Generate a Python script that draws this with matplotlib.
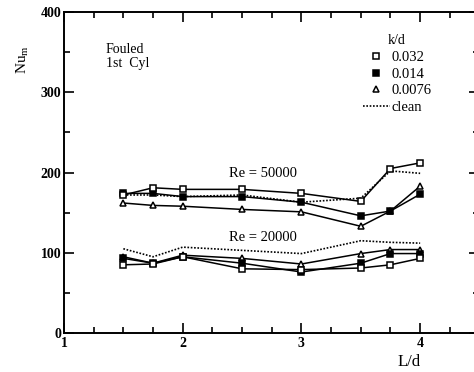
import matplotlib
matplotlib.use("Agg")
import matplotlib.pyplot as plt
from matplotlib.lines import Line2D
from matplotlib.ticker import MultipleLocator, FormatStrFormatter

plt.rcParams['font.family'] = ['Liberation Serif', 'DejaVu Serif']

x = [1.5, 1.75, 2.0, 2.5, 3.0, 3.5, 3.75, 4.0]

# Re = 50000
re50_k032 = [172, 181, 179, 179, 174, 164, 205, 212]
re50_k014 = [174, 174, 170, 170, 163, 146, 152, 173]
re50_k0076 = [162, 159, 158, 154, 151, 133, 152, 183]
re50_clean = [172, 172, 170, 172, 163, 168, 202, 199]

# Re = 20000
re20_k032 = [85, 86, 95, 80, 79, 81, 85, 93]
re20_k014 = [93, 87, 95, 87, 76, 87, 99, 99]
re20_k0076 = [95, 87, 97, 93, 86, 99, 104, 104]
re20_clean = [105, 95, 107, 103, 99, 115, 113, 112]

legend_labels = ['0.032', '0.014', '0.0076', 'clean']

fig = plt.figure(figsize=(4.74, 3.72), dpi=100)
ax = fig.add_axes([0.135, 0.1048, 0.8766, 0.8629])

lw = 1.1
ms = 5
common = dict(color='black', lw=lw, markersize=ms, markeredgewidth=1.1, zorder=3)
for k032, k014, k0076, clean in [(re50_k032, re50_k014, re50_k0076, re50_clean),
                                 (re20_k032, re20_k014, re20_k0076, re20_clean)]:
    ax.plot(x, clean, color='black', lw=1.2, ls=(0, (1, 1)), zorder=2)
    ax.plot(x, k0076, marker='^', markerfacecolor='white', **common)
    ax.plot(x, k014, marker='s', markerfacecolor='black', **common)
    ax.plot(x, k032, marker='s', markerfacecolor='white', **common)

ax.set_xlim(1, 4.5)
ax.set_ylim(0, 400)
ax.xaxis.set_major_locator(MultipleLocator(1))
ax.xaxis.set_minor_locator(MultipleLocator(0.25))
ax.yaxis.set_major_locator(MultipleLocator(100))
ax.yaxis.set_minor_locator(MultipleLocator(50))
ax.tick_params(which='both', direction='in', top=True, right=True, labelsize=10, width=1.2)
ax.tick_params(which='major', length=7)
ax.tick_params(which='minor', length=4)
ax.tick_params(axis='y', pad=2)
ax.tick_params(axis='x', pad=3)
for s in ax.spines.values():
    s.set_linewidth(1.4)

ax.xaxis.set_major_formatter(FormatStrFormatter('%d'))
ax.yaxis.set_major_formatter(FormatStrFormatter('%d'))
for lab in ax.get_xticklabels() + ax.get_yticklabels():
    lab.set_fontweight('bold')

ax.text(1.35, 345, 'Fouled\n1st  Cyl', fontsize=10, va='center', ha='left', linespacing=1.1)
ax.text(2.68, 199, 'Re = 50000', fontsize=10.5, ha='center', va='center')
ax.text(2.68, 119, 'Re = 20000', fontsize=10.5, ha='center', va='center')

fig.text(0.047, 0.84, r'Nu$_\mathregular{m}$', rotation=90, fontsize=11, ha='center', va='center')
fig.text(0.863, 0.027, 'L/d', fontsize=12, ha='center', va='center')

handles = [
    Line2D([], [], color='black', marker='s', markerfacecolor='white', ls='none', markersize=ms, markeredgewidth=1.1),
    Line2D([], [], color='black', marker='s', markerfacecolor='black', ls='none', markersize=ms, markeredgewidth=1.1),
    Line2D([], [], color='black', marker='^', markerfacecolor='white', ls='none', markersize=ms, markeredgewidth=1.1),
    Line2D([], [], color='black', ls=(0, (1, 1)), lw=1.2),
]
leg = ax.legend(handles, legend_labels, title='k/d', loc='upper left',
                bbox_to_anchor=(0.705, 0.95), frameon=False, fontsize=10.5,
                title_fontsize=10, handlelength=1.85, handletextpad=0.1,
                labelspacing=0.25, borderaxespad=0)
leg._legend_box.align = 'center'

fig.savefig('out.png', dpi=100)
